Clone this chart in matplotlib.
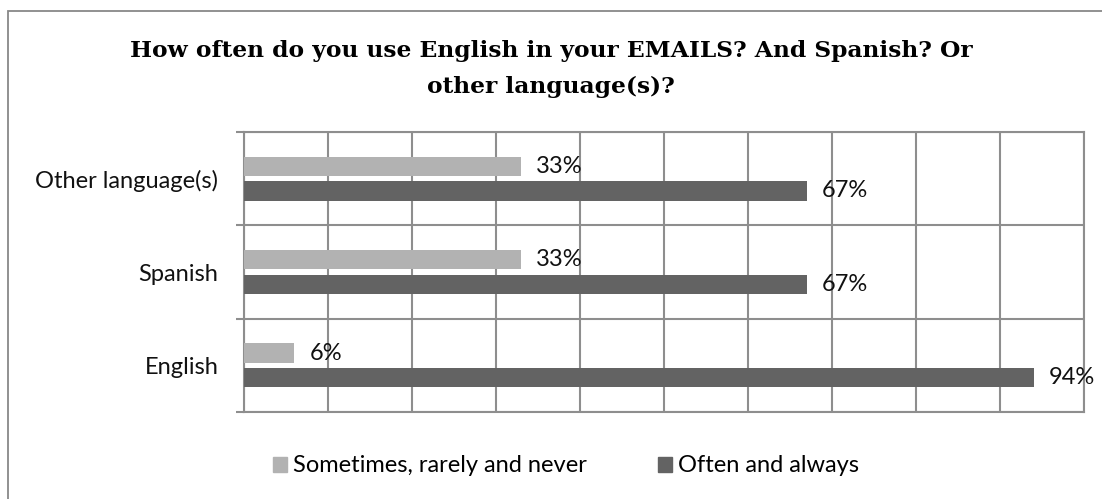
import matplotlib.pyplot as plt
from matplotlib.patches import Patch, Rectangle

# survey answers, share of respondents (%)
languages = ["English", "Spanish", "Other language(s)"]
sometimes = [6, 33, 33]
often = [94, 67, 67]
series_names = ["Sometimes, rarely and never", "Often and always"]

LIGHT = "#b2b2b2"
DARK = "#636363"
GRID = "#8e8e8e"

W, H = 1102, 499
fig = plt.figure(figsize=(W / 100, H / 100), dpi=100)

# outer chart frame (only top and left edges visible)
fig.patches.append(Rectangle((8 / W, -0.1), 1.2, 1 - 11 / H + 0.1, transform=fig.transFigure,
                             fill=False, edgecolor="#888888", linewidth=1.3))

ax = fig.add_axes([244 / W, 1 - 412 / H, (1084 - 244) / W, (412 - 132) / H])

y = list(range(len(languages)))
off = 0.132
h = 0.21
ax.barh([v + off for v in y], sometimes, height=h, color=LIGHT, zorder=3)
ax.barh([v - off for v in y], often, height=h, color=DARK, zorder=3)

FS = 17
label_font = dict(family="Lato", fontsize=FS, color="#111111")
for i in y:
    ax.text(sometimes[i] + 1.8, i + off, "%d%%" % sometimes[i], va="center", ha="left",
            zorder=4, **label_font)
    ax.text(often[i] + 1.8, i - off, "%d%%" % often[i], va="center", ha="left",
            zorder=4, **label_font)

ax.set_xlim(0, 100)
ax.set_ylim(-0.5, 2.5)
ax.set_xticks(range(0, 101, 10))
ax.tick_params(axis="x", length=0, labelbottom=False)
ax.set_yticks(y)
ax.set_yticklabels(languages, **label_font)
ax.tick_params(axis="y", which="major", length=0, pad=18.5)
ax.set_yticks([-0.5, 0.5, 1.5, 2.5], minor=True)
ax.tick_params(axis="y", which="minor", length=6, width=1.5, color=GRID, direction="out")
ax.grid(axis="x", color=GRID, linewidth=1.5, zorder=0)
ax.grid(axis="y", which="minor", color=GRID, linewidth=1.5, zorder=0)
for s in ax.spines.values():
    s.set_color(GRID)
    s.set_linewidth(1.5)

title_font = dict(family="DejaVu Serif", fontweight="bold", fontsize=16.8)
fig.text(0.5, 1 - 51 / H, "How often do you use English in your EMAILS? And Spanish? Or",
         ha="center", va="center", **title_font)
fig.text(0.5, 1 - 87 / H, "other language(s)?", ha="center", va="center", **title_font)

handles = [Patch(color=LIGHT), Patch(color=DARK)]
fig.legend(handles, series_names, loc="center", bbox_to_anchor=(0.5 + 15 / W, 1 - 466 / H),
           ncol=2, frameon=False, prop=dict(family="Lato", size=FS), handlelength=0.6,
           handleheight=0.6, handletextpad=0.25, columnspacing=3.0)

fig.savefig("out.png", dpi=100)
